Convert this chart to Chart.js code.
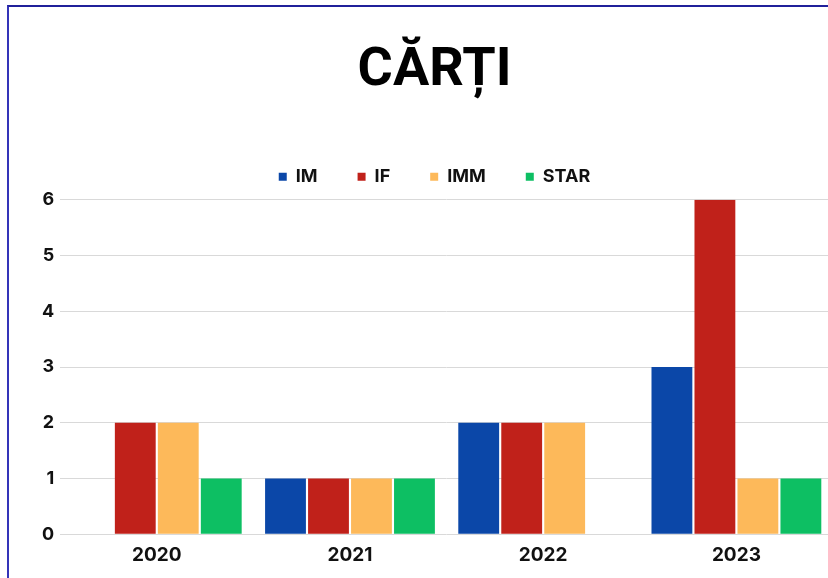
<!DOCTYPE html>
<html>
<head>
<meta charset="utf-8">
<script src="https://cdn.jsdelivr.net/npm/chart.js@4"></script>
<style>
  html, body { margin: 0; padding: 0; background: #fff; overflow: hidden; }
  #frame { position: absolute; left: 7px; top: 5px; width: 900px; height: 700px;
           border-left: 2px solid #3434b8; border-top: 2px solid #20209a; }
  #wrap { position: absolute; left: 0; top: 0; width: 840px; height: 578px; }
</style>
</head>
<body>
<div id="frame"></div>
<div id="wrap"><canvas id="chart" width="840" height="578"></canvas></div>
<script>
/* data */
const years   = ['2020', '2021', '2022', '2023'];
const seriesIM   = [0, 1, 2, 3];
const seriesIF   = [2, 1, 2, 6];
const seriesIMM  = [2, 1, 2, 1];
const seriesSTAR = [1, 1, 0, 1];
const yTicks  = [0, 1, 2, 3, 4, 5, 6];

const FONT = 'Inter, "Open Sans", sans-serif';

const ds = (label, data, color) => ({
  label, data,
  backgroundColor: color,
  borderWidth: 0,
  categoryPercentage: 0.89,
  barPercentage: 0.95,
});

// a bit more room under the legend
const legendGap = {
  id: 'legendGap',
  beforeInit(chart) {
    const fit = chart.legend.fit;
    chart.legend.fit = function () { fit.call(this); this.height += 4; };
  },
};

new Chart(document.getElementById('chart'), {
  type: 'bar',
  data: {
    labels: years,
    datasets: [
      ds('IM',   seriesIM,   '#0b47a8'),
      ds('IF',   seriesIF,   '#c0211a'),
      ds('IMM',  seriesIMM,  '#fdb95a'),
      ds('STAR', seriesSTAR, '#0dbf63'),
    ],
  },
  plugins: [legendGap],
  options: {
    responsive: false,
    animation: false,
    layout: { padding: { left: 36, right: 7, top: 0, bottom: 9 } },
    plugins: {
      tooltip: { enabled: false },
      title: {
        display: true,
        text: 'CĂRȚI',
        color: '#000',
        font: { family: 'Roboto, sans-serif', size: 54, weight: 'bold' },
        padding: { top: 39, bottom: 24 },
      },
      legend: {
        labels: {
          usePointStyle: true,
          pointStyle: 'rect',
          boxWidth: 8, boxHeight: 8,
          padding: 40,
          color: '#111',
          font: { family: FONT, size: 18, weight: 'bold' },
        },
      },
    },
    scales: {
      x: {
        grid: { display: false },
        border: { display: false },
        ticks: { color: '#111', padding: 2, font: { family: FONT, size: 19, weight: 'bold' } },
      },
      y: {
        min: 0, max: 6,
        afterBuildTicks: s => { s.ticks = yTicks.map(v => ({ value: v })); },
        grid: { color: '#d9d9d9', drawTicks: false },
        border: { display: false },
        ticks: { color: '#111', padding: 6, font: { family: FONT, size: 18, weight: 'bold' } },
      },
    },
  },
});
</script>
</body>
</html>
